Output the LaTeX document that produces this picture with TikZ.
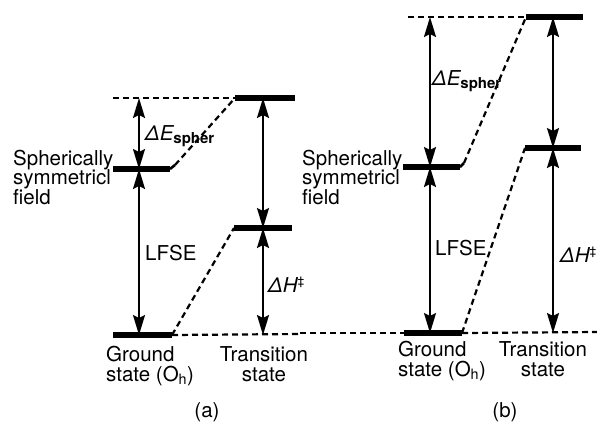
\documentclass[tikz,border=0pt]{standalone}
\usepackage{fontspec}
\setmainfont{TeX Gyre Heros}
\usetikzlibrary{arrows.meta}
\tikzset{
  lvl/.style={line width=6.5pt},
  conn/.style={dashed, dash pattern=on 6pt off 4pt, line width=2.2pt},
  tip/.tip={Stealth[length=20pt,width=12pt,inset=3pt]},
  dbl/.style={line width=2.1pt, tip-tip},
  lbl/.style={inner sep=0pt, font=\fontsize{20.5}{19.5}\selectfont},
}
\newcommand{\dEsph}{{\itshape ΔE}\raisebox{-3pt}{\fontsize{15}{15}\selectfont\bfseries spher}}
\newcommand{\dHts}{{\itshape ΔH}\raisebox{7pt}{\fontsize{12}{12}\selectfont ‡}}
\begin{document}
\begin{tikzpicture}[x=1pt,y=-1pt]
\useasboundingbox (0,0) rectangle (597,424);
% ---------- panel (a) ----------
\coordinate (aTopL) at (113,98);
\coordinate (aTopA) at (139,98);
\coordinate (aTopS) at (235,98);
\coordinate (aTopE) at (295,98);
\coordinate (aTopT) at (263,98);
\coordinate (aSphL) at (113,169);
\coordinate (aSphA) at (139,169);
\coordinate (aSphE) at (170,169);
\coordinate (aSphD) at (175,165);
\coordinate (aTsL) at (234,228);
\coordinate (aTsT) at (263,228);
\coordinate (aTsE) at (292,228);
\coordinate (aGrL) at (113,335);
\coordinate (aGrA) at (139,335);
\coordinate (aGrE) at (172,335);
\coordinate (aGrT) at (263,335);
\coordinate (aGrR) at (300,334);

\draw[conn] (aTopL) -- (aTopS);
\draw[lvl] (aTopS) -- (aTopE);
\draw[lvl] (aSphL) -- (aSphE);
\draw[line width=2.6pt] (aSphE) -- (aSphD);
\draw[conn] (aSphD) -- (aTopS);
\draw[lvl] (aTsL) -- (aTsE);
\draw[lvl] (aGrL) -- (aGrE);
\draw[conn] (aGrE) -- (aTsL);
\draw[conn] (aGrE) -- (aGrR);
\draw[dbl] (aTopA) -- (aSphA);
\draw[dbl] (aSphA) -- (aGrA);
\draw[dbl] (aTopT) -- (aTsT);
\draw[dbl] (aTsT) -- (aGrT);

\node[lbl, anchor=base west] (aDE) at (145,140) {\dEsph};
\node[lbl, anchor=base west] (aLF) at (145,260) {LFSE};
\node[lbl, anchor=base west] (aDH) at (268,292) {\dHts};
\node[lbl, anchor=base west, align=left] (aSp) at (13,204) {Spherically\\symmetricl\\field};
\node[lbl, anchor=base west, align=left] (aGs) at (106,381) {Ground\\state (O\textsubscript{h})};
\node[lbl, anchor=base, align=center] (aTs) at (264,381) {Transition\\state};
\node[lbl, anchor=base] (aCap) at (207,417) {(a)};

% ---------- panel (b) ----------
\coordinate (bTopL) at (408,17);
\coordinate (bTopA) at (430,17);
\coordinate (bTopS) at (526,17);
\coordinate (bTopE) at (583,17);
\coordinate (bTopT) at (553,17);
\coordinate (bSphL) at (403,167);
\coordinate (bSphA) at (430,167);
\coordinate (bSphE) at (460,167);
\coordinate (bSphD) at (464,163);
\coordinate (bTsL) at (525,148);
\coordinate (bTsT) at (553,148);
\coordinate (bTsE) at (581,148);
\coordinate (bGrL) at (404,333);
\coordinate (bGrA) at (430,333);
\coordinate (bGrE) at (462,333);
\coordinate (bGrT) at (553,333);
\coordinate (bGrB) at (300,333);
\coordinate (bGrR) at (597,332);

\draw[conn] (bTopL) -- (bTopS);
\draw[lvl] (bTopS) -- (bTopE);
\draw[lvl] (bSphL) -- (bSphE);
\draw[line width=2.6pt] (bSphE) -- (bSphD);
\draw[conn] (bSphD) -- (bTopS);
\draw[lvl] (bTsL) -- (bTsE);
\draw[conn] (bGrB) -- (bGrL);
\draw[lvl] (bGrL) -- (bGrE);
\draw[conn] (bGrE) -- (bTsL);
\draw[conn] (bGrE) -- (bGrR);
\draw[dbl] (bTopA) -- (bSphA);
\draw[dbl] (bSphA) -- (bGrA);
\draw[dbl] (bTopT) -- (bTsT);
\draw[dbl] (bTsT) -- (bGrT);

\node[lbl, anchor=base west] (bDE) at (432,85) {\dEsph};
\node[lbl, anchor=base west] (bLF) at (435,255) {LFSE};
\node[lbl, anchor=base west] (bDH) at (560,262) {\dHts};
\node[lbl, anchor=base west, align=left] (bSp) at (302,204) {Spherically\\symmetricl\\field};
\node[lbl, anchor=base west, align=left] (bGs) at (398,376) {Ground\\state (O\textsubscript{h})};
\node[lbl, anchor=base, align=center] (bTs) at (543,376) {Transition\\state};
\node[lbl, anchor=base] (bCap) at (505,417) {(b)};
\end{tikzpicture}
\end{document}
